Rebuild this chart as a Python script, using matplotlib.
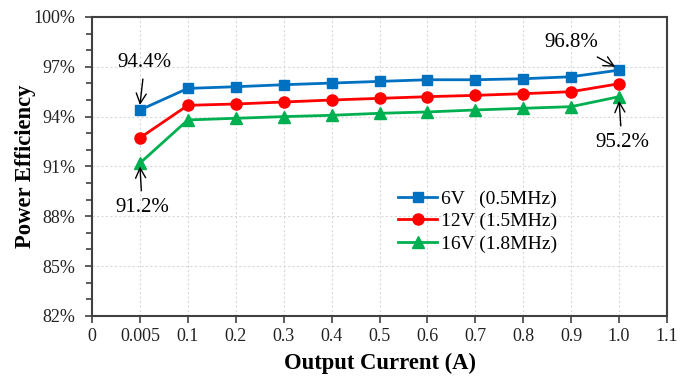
import matplotlib
matplotlib.use("Agg")
import matplotlib.pyplot as plt
from matplotlib.ticker import FuncFormatter

x_labels = ["0", "0.005", "0.1", "0.2", "0.3", "0.4", "0.5", "0.6", "0.7", "0.8", "0.9", "1.0", "1.1"]
currents = ["0.005", "0.1", "0.2", "0.3", "0.4", "0.5", "0.6", "0.7", "0.8", "0.9", "1.0"]
eff_6v = [94.4, 95.7, 95.8, 95.92, 96.02, 96.12, 96.22, 96.22, 96.28, 96.4, 96.8]
eff_12v = [92.72, 94.68, 94.76, 94.88, 95.0, 95.1, 95.2, 95.28, 95.38, 95.5, 95.98]
eff_16v = [91.2, 93.8, 93.9, 94.0, 94.08, 94.2, 94.28, 94.4, 94.5, 94.6, 95.2]
series_labels = ["6V   (0.5MHz)", "12V (1.5MHz)", "16V (1.8MHz)"]
y_major = [82, 85, 88, 91, 94, 97, 100]
y_minor = list(range(82, 101))

plt.rcParams['font.family'] = ['Liberation Serif', 'DejaVu Serif']

fig = plt.figure(figsize=(6.94, 3.77), dpi=100)
ax = fig.add_axes([0.1326, 0.162, 0.8285, 0.793])

xpos = [x_labels.index(c) for c in currents]

ax.plot(xpos, eff_6v, color="#0070C0", marker="s", markersize=7, lw=2, label=series_labels[0], zorder=3)
ax.plot(xpos, eff_12v, color="#FF0000", marker="o", markersize=8, lw=2, label=series_labels[1], zorder=3)
ax.plot(xpos, eff_16v, color="#00B050", marker="^", markersize=8, lw=2, label=series_labels[2], zorder=3)

ax.set_xlim(0, len(x_labels) - 1)
ax.set_ylim(82, 100)
ax.set_xticks(range(len(x_labels)))
ax.set_xticklabels(x_labels)
ax.set_yticks(y_major)
ax.set_yticks(y_minor, minor=True)
ax.yaxis.set_major_formatter(FuncFormatter(lambda v, p: f"{v:.0f}%"))

ax.grid(True, which="major", color="#d9d9d9", linestyle=(0, (2, 2)), lw=0.8)
ax.set_axisbelow(True)
for s in ax.spines.values():
    s.set_color("#404040")
    s.set_linewidth(1.5)
ax.tick_params(axis="both", which="major", direction="out", length=5, width=1.2, color="#404040", labelsize=13, labelcolor="#222222")
ax.tick_params(axis="y", which="major", pad=7)
ax.tick_params(axis="y", which="minor", direction="out", length=4, width=1.2, color="#404040")

ax.set_xlabel("Output Current (A)", fontsize=16.3, fontweight="bold", labelpad=6)
ax.set_ylabel("Power Efficiency", fontsize=16.3, fontweight="bold", labelpad=-1.5)

arrow = dict(arrowstyle="->", color="black", lw=1.0, mutation_scale=18, shrinkA=3, shrinkB=0)
i0 = xpos[0]
i1 = xpos[-1]
ax.annotate("94.4%", xy=(i0, eff_6v[0] + 0.3), xytext=(i0 + 0.1, 97.25), fontsize=15,
            ha="center", va="center", arrowprops=arrow)
ax.annotate("91.2%", xy=(i0, eff_16v[0] - 0.2), xytext=(i0 + 0.05, 88.55), fontsize=15,
            ha="center", va="center", arrowprops=arrow)
ax.annotate("96.8%", xy=(i1 - 0.08, eff_6v[-1] + 0.2), xytext=(i1 - 1.0, 98.45), fontsize=15,
            ha="center", va="center", arrowprops=arrow)
ax.annotate("95.2%", xy=(i1, eff_16v[-1] - 0.25), xytext=(i1 + 0.06, 92.45), fontsize=15,
            ha="center", va="center", arrowprops=arrow)

ax.legend(loc="upper left", bbox_to_anchor=(0.509, 0.467), frameon=False, fontsize=14,
          handlelength=2.0, handletextpad=0.2, labelspacing=0.25, borderpad=0.2)

fig.savefig("out.png", dpi=100)
